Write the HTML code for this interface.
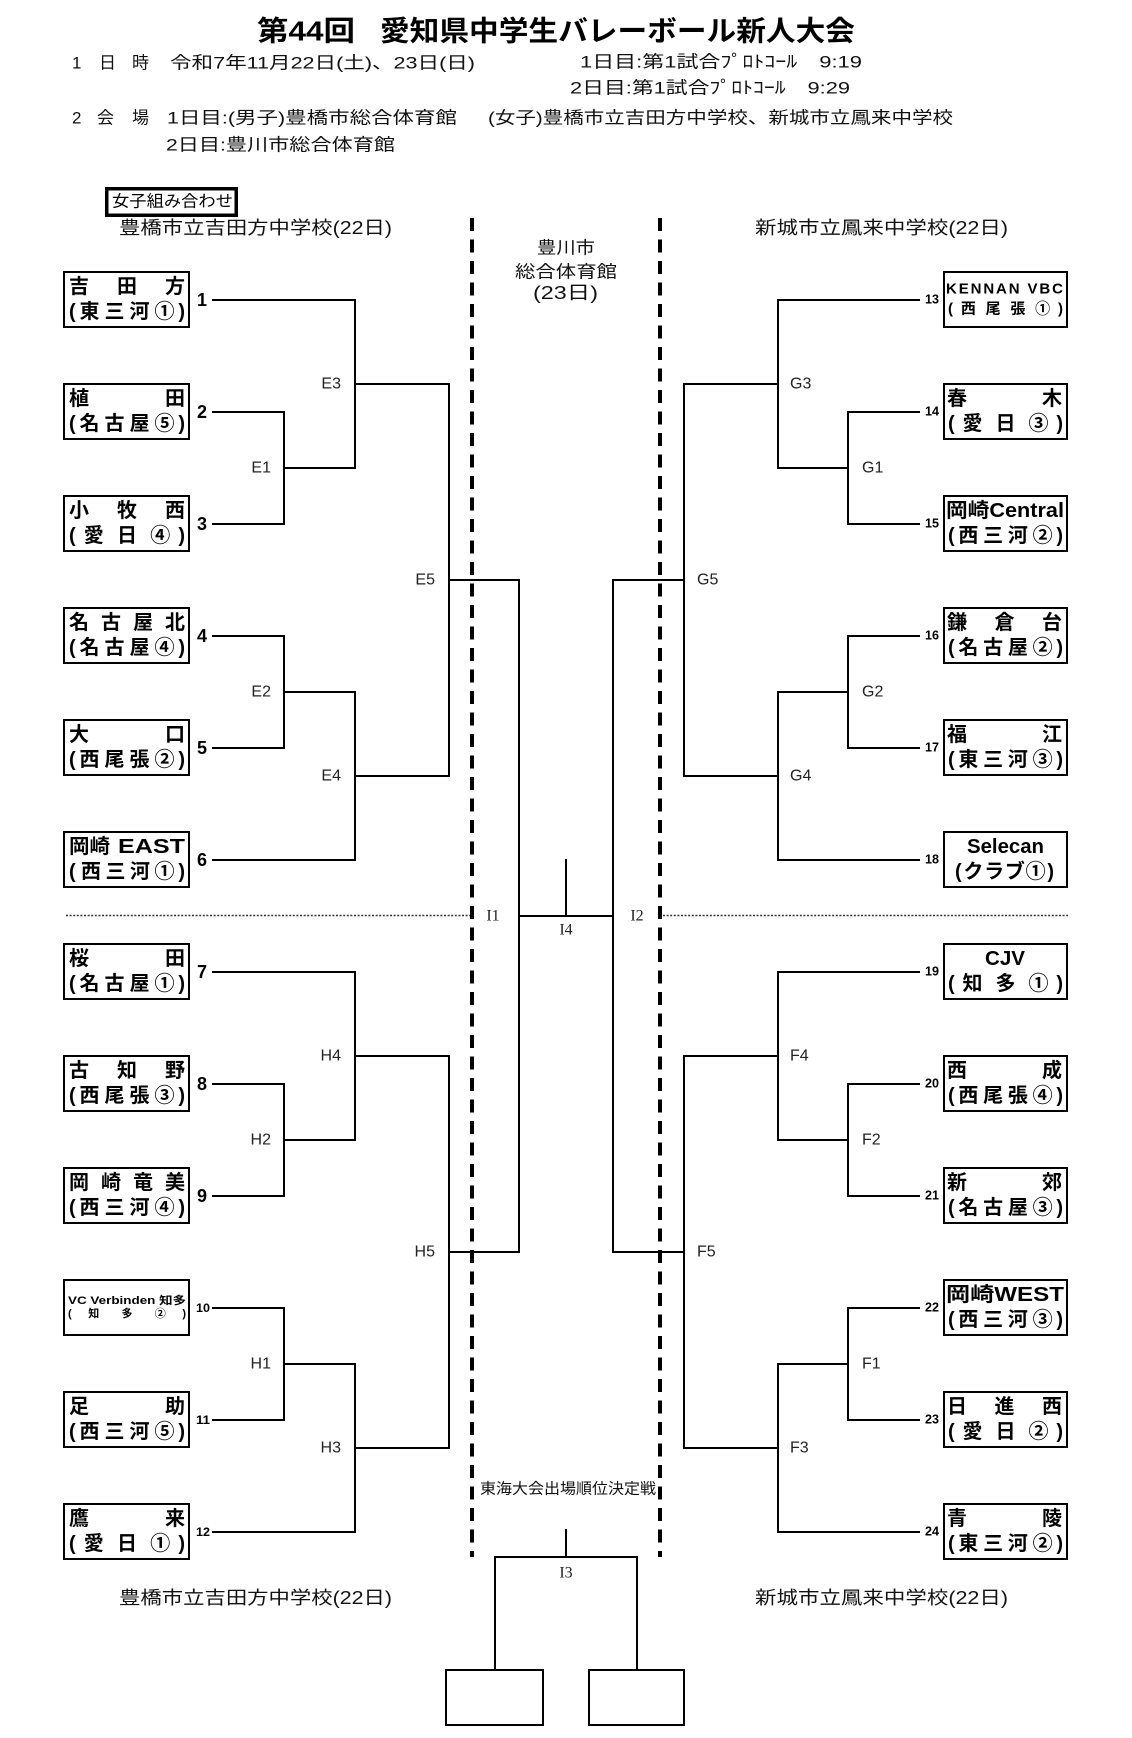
<!DOCTYPE html>
<html><head><meta charset="utf-8"><style>
html,body{margin:0;padding:0;background:#fff;}
svg{display:block;}
text{font-family:"Liberation Sans","Noto Sans CJK JP",sans-serif;dominant-baseline:central;fill:#000;}
.b{font-weight:bold;font-size:20px;text-anchor:middle;}
.bs{font-weight:bold;font-size:20px;text-anchor:start;}
.be{font-weight:bold;font-size:20px;text-anchor:end;}
.h{font-size:17px;fill:#111;}
.lab{font-size:16px;fill:#222;}
.lr{font-size:16px;fill:#222;text-anchor:end;}
.ll{font-size:16px;fill:#222;text-anchor:start;}
.ser{font-family:"Liberation Serif","Noto Serif CJK SC",serif;font-size:16px;text-anchor:middle;fill:#222;}
.num{font-weight:bold;font-size:18px;text-anchor:middle;}
.nums{font-weight:bold;font-size:12px;}
.numr{font-weight:bold;font-size:13px;}
</style></head><body>
<svg width="1132" height="1738" viewBox="0 0 1132 1738" xmlns="http://www.w3.org/2000/svg">
<rect width="1132" height="1738" fill="#fff"/>

<!-- Title -->
<text x="257" y="31" style="font-weight:bold;font-size:28px" textLength="98" lengthAdjust="spacingAndGlyphs">第44回</text>
<text x="380" y="31" style="font-weight:bold;font-size:28px" textLength="475" lengthAdjust="spacingAndGlyphs">愛知県中学生バレーボール新人大会</text>

<!-- Header lines -->
<text class="h" x="72" y="63">1</text>
<text class="h" x="99" y="63">日</text>
<text class="h" x="132" y="63">時</text>
<text class="h" x="170" y="63" textLength="305" lengthAdjust="spacingAndGlyphs">令和7年11月22日(土)、23日(日)</text>
<text class="h" x="580" y="62" textLength="282" lengthAdjust="spacingAndGlyphs">1日目:第1試合ﾌﾟﾛﾄｺｰﾙ　9:19</text>
<text class="h" x="570" y="88" textLength="280" lengthAdjust="spacingAndGlyphs">2日目:第1試合ﾌﾟﾛﾄｺｰﾙ　9:29</text>
<text class="h" x="72" y="118">2</text>
<text class="h" x="97" y="118">会</text>
<text class="h" x="132" y="118">場</text>
<text class="h" x="167" y="118" textLength="290" lengthAdjust="spacingAndGlyphs">1日目:(男子)豊橋市総合体育館</text>
<text class="h" x="488" y="118" textLength="465" lengthAdjust="spacingAndGlyphs">(女子)豊橋市立吉田方中学校、新城市立鳳来中学校</text>
<text class="h" x="166" y="145" textLength="229" lengthAdjust="spacingAndGlyphs">2日目:豊川市総合体育館</text>

<!-- 女子組み合わせ -->
<rect x="106.75" y="188.75" width="129.5" height="26.5" fill="none" stroke="#000" stroke-width="3.5"/>
<text x="112" y="202" style="font-size:16px" textLength="121" lengthAdjust="spacingAndGlyphs">女子組み合わせ</text>

<!-- Column headers -->
<text class="h" x="119" y="228" style="font-size:18px" textLength="273" lengthAdjust="spacingAndGlyphs">豊橋市立吉田方中学校(22日)</text>
<text class="h" x="755" y="228" style="font-size:18px" textLength="253" lengthAdjust="spacingAndGlyphs">新城市立鳳来中学校(22日)</text>
<text class="h" x="119" y="1598" style="font-size:18px" textLength="273" lengthAdjust="spacingAndGlyphs">豊橋市立吉田方中学校(22日)</text>
<text class="h" x="755" y="1598" style="font-size:18px" textLength="253" lengthAdjust="spacingAndGlyphs">新城市立鳳来中学校(22日)</text>

<!-- Center venue -->
<text class="h" x="537" y="248" textLength="58" lengthAdjust="spacingAndGlyphs">豊川市</text>
<text class="h" x="515" y="272" textLength="102" lengthAdjust="spacingAndGlyphs">総合体育館</text>
<text class="h" x="533" y="293" style="font-size:18px" textLength="65" lengthAdjust="spacingAndGlyphs">(23日)</text>
<text class="h" x="480" y="1489" style="font-size:15px" textLength="176" lengthAdjust="spacingAndGlyphs">東海大会出場順位決定戦</text>

<!-- Dashed venue separators -->
<line x1="472" y1="218" x2="472" y2="1557" stroke="#000" stroke-width="4" stroke-dasharray="13 8.5"/>
<line x1="660" y1="218" x2="660" y2="1557" stroke="#000" stroke-width="4" stroke-dasharray="13 8.5"/>

<!-- Dotted separators -->
<line x1="66" y1="915.5" x2="470" y2="915.5" stroke="#333" stroke-width="1.6" stroke-dasharray="2 1.6"/>
<line x1="663" y1="915.5" x2="1068" y2="915.5" stroke="#333" stroke-width="1.6" stroke-dasharray="2 1.6"/>

<!-- Bracket lines -->
<g stroke="#000" stroke-width="2" fill="none" stroke-linecap="square">
<path d="M213 300H355 M213 412H284 M213 524H284 M213 636H284 M213 748H284 M213 860H355 M213 972H355 M213 1084H284 M213 1196H284 M213 1308H284 M213 1420H284 M213 1532H355"/>
<path d="M284 412V524 M284 636V748 M284 1084V1196 M284 1308V1420"/>
<path d="M284 468H355 M284 692H355 M284 1140H355 M284 1364H355"/>
<path d="M355 300V468 M355 692V860 M355 972V1140 M355 1364V1532"/>
<path d="M355 384H449 M355 776H449 M355 1056H449 M355 1448H449"/>
<path d="M449 384V776 M449 1056V1448"/>
<path d="M449 580H519 M449 1252H519"/>
<path d="M519 580V1252 M613 580V1252 M519 916H613 M566 860V916"/>
<path d="M613 580H684 M613 1252H684"/>
<path d="M684 384V776 M684 1056V1448"/>
<path d="M684 384H778 M684 776H778 M684 1056H778 M684 1448H778"/>
<path d="M778 300V468 M778 692V860 M778 972V1140 M778 1364V1532"/>
<path d="M778 468H848 M778 692H848 M778 1140H848 M778 1364H848"/>
<path d="M848 412V524 M848 636V748 M848 1084V1196 M848 1308V1420"/>
<path d="M778 300H919 M848 412H919 M848 524H919 M848 636H919 M848 748H919 M778 860H919 M778 972H919 M848 1084H919 M848 1196H919 M848 1308H919 M848 1420H919 M778 1532H919"/>
<path d="M566 1530V1557 M495 1557H637 M495 1557V1670 M637 1557V1670"/>
</g>
<rect x="446" y="1670" width="97" height="55" fill="none" stroke="#000" stroke-width="2"/>
<rect x="589" y="1670" width="95" height="55" fill="none" stroke="#000" stroke-width="2"/>

<!-- Match labels -->
<text class="lr" x="271" y="468">E1</text>
<text class="lr" x="271" y="692">E2</text>
<text class="lr" x="341" y="384">E3</text>
<text class="lr" x="341" y="776">E4</text>
<text class="lr" x="435" y="580">E5</text>
<text class="lr" x="341" y="1056">H4</text>
<text class="lr" x="271" y="1140">H2</text>
<text class="lr" x="435" y="1252">H5</text>
<text class="lr" x="271" y="1364">H1</text>
<text class="lr" x="341" y="1448">H3</text>
<text class="ll" x="790" y="384">G3</text>
<text class="ll" x="862" y="468">G1</text>
<text class="ll" x="697" y="580">G5</text>
<text class="ll" x="862" y="692">G2</text>
<text class="ll" x="790" y="776">G4</text>
<text class="ll" x="790" y="1056">F4</text>
<text class="ll" x="862" y="1140">F2</text>
<text class="ll" x="697" y="1252">F5</text>
<text class="ll" x="862" y="1364">F1</text>
<text class="ll" x="790" y="1448">F3</text>
<text class="ser" x="493" y="916">I1</text>
<text class="ser" x="637" y="916">I2</text>
<text class="ser" x="566" y="930">I4</text>
<text class="ser" x="566" y="1573">I3</text>

<!-- Seed numbers -->
<text class="num" x="202" y="300">1</text>
<text class="num" x="202" y="412">2</text>
<text class="num" x="202" y="524">3</text>
<text class="num" x="202" y="636">4</text>
<text class="num" x="202" y="748">5</text>
<text class="num" x="202" y="860">6</text>
<text class="num" x="202" y="972">7</text>
<text class="num" x="202" y="1084">8</text>
<text class="num" x="202" y="1196">9</text>
<text class="nums" x="196" y="1308" textLength="14" lengthAdjust="spacingAndGlyphs">10</text>
<text class="nums" x="196" y="1420" textLength="14" lengthAdjust="spacingAndGlyphs">11</text>
<text class="nums" x="196" y="1532" textLength="14" lengthAdjust="spacingAndGlyphs">12</text>
<text class="numr" x="925" y="299" textLength="14" lengthAdjust="spacingAndGlyphs">13</text>
<text class="numr" x="925" y="411" textLength="14" lengthAdjust="spacingAndGlyphs">14</text>
<text class="numr" x="925" y="523" textLength="14" lengthAdjust="spacingAndGlyphs">15</text>
<text class="numr" x="925" y="635" textLength="14" lengthAdjust="spacingAndGlyphs">16</text>
<text class="numr" x="925" y="747" textLength="14" lengthAdjust="spacingAndGlyphs">17</text>
<text class="numr" x="925" y="859" textLength="14" lengthAdjust="spacingAndGlyphs">18</text>
<text class="numr" x="925" y="971" textLength="14" lengthAdjust="spacingAndGlyphs">19</text>
<text class="numr" x="925" y="1083" textLength="14" lengthAdjust="spacingAndGlyphs">20</text>
<text class="numr" x="925" y="1195" textLength="14" lengthAdjust="spacingAndGlyphs">21</text>
<text class="numr" x="925" y="1307" textLength="14" lengthAdjust="spacingAndGlyphs">22</text>
<text class="numr" x="925" y="1419" textLength="14" lengthAdjust="spacingAndGlyphs">23</text>
<text class="numr" x="925" y="1531" textLength="14" lengthAdjust="spacingAndGlyphs">24</text>

<!-- Team boxes -->
<g fill="none" stroke="#000" stroke-width="2">
<rect x="64" y="272" width="125" height="55"/>
<rect x="64" y="384" width="125" height="55"/>
<rect x="64" y="496" width="125" height="55"/>
<rect x="64" y="608" width="125" height="55"/>
<rect x="64" y="720" width="125" height="55"/>
<rect x="64" y="832" width="125" height="55"/>
<rect x="64" y="944" width="125" height="55"/>
<rect x="64" y="1056" width="125" height="55"/>
<rect x="64" y="1168" width="125" height="55"/>
<rect x="64" y="1280" width="125" height="55"/>
<rect x="64" y="1392" width="125" height="55"/>
<rect x="64" y="1504" width="125" height="55"/>
<rect x="944" y="272" width="123" height="55"/>
<rect x="944" y="384" width="123" height="55"/>
<rect x="944" y="496" width="123" height="55"/>
<rect x="944" y="608" width="123" height="55"/>
<rect x="944" y="720" width="123" height="55"/>
<rect x="944" y="832" width="123" height="55"/>
<rect x="944" y="944" width="123" height="55"/>
<rect x="944" y="1056" width="123" height="55"/>
<rect x="944" y="1168" width="123" height="55"/>
<rect x="944" y="1280" width="123" height="55"/>
<rect x="944" y="1392" width="123" height="55"/>
<rect x="944" y="1504" width="123" height="55"/>
</g>

<!-- 1 -->
<text class="b" x="79" y="287">吉</text><text class="b" x="127" y="287">田</text><text class="b" x="175" y="287">方</text>
<text class="bs" x="69" y="312">(</text><text class="b" x="89.5" y="312">東</text><text class="b" x="114.5" y="312">三</text><text class="b" x="139.5" y="312">河</text><text class="b" x="164.5" y="312">①</text><text class="be" x="185" y="312">)</text>
<!-- 2 -->
<text class="b" x="79" y="399">植</text><text class="b" x="175" y="399">田</text>
<text class="bs" x="69" y="424">(</text><text class="b" x="89.5" y="424">名</text><text class="b" x="114.5" y="424">古</text><text class="b" x="139.5" y="424">屋</text><text class="b" x="164.5" y="424">⑤</text><text class="be" x="185" y="424">)</text>
<!-- 3 -->
<text class="b" x="79" y="511">小</text><text class="b" x="127" y="511">牧</text><text class="b" x="175" y="511">西</text>
<text class="bs" x="69" y="536">(</text><text class="b" x="93.7" y="536">愛</text><text class="b" x="127" y="536">日</text><text class="b" x="160.3" y="536">④</text><text class="be" x="185" y="536">)</text>
<!-- 4 -->
<text class="b" x="79" y="623">名</text><text class="b" x="111" y="623">古</text><text class="b" x="143" y="623">屋</text><text class="b" x="175" y="623">北</text>
<text class="bs" x="69" y="648">(</text><text class="b" x="89.5" y="648">名</text><text class="b" x="114.5" y="648">古</text><text class="b" x="139.5" y="648">屋</text><text class="b" x="164.5" y="648">④</text><text class="be" x="185" y="648">)</text>
<!-- 5 -->
<text class="b" x="79" y="735">大</text><text class="b" x="175" y="735">口</text>
<text class="bs" x="69" y="760">(</text><text class="b" x="89.5" y="760">西</text><text class="b" x="114.5" y="760">尾</text><text class="b" x="139.5" y="760">張</text><text class="b" x="164.5" y="760">②</text><text class="be" x="185" y="760">)</text>
<!-- 6 -->
<text class="bs" x="69" y="847" textLength="41" lengthAdjust="spacingAndGlyphs">岡崎</text><text class="bs" x="118" y="847" textLength="67" lengthAdjust="spacingAndGlyphs">EAST</text>
<text class="bs" x="69" y="872">(</text><text class="b" x="91" y="872">西</text><text class="b" x="115.5" y="872">三</text><text class="b" x="140" y="872">河</text><text class="b" x="164.5" y="872">①</text><text class="be" x="185" y="872">)</text>
<!-- 7 -->
<text class="b" x="79" y="959">桜</text><text class="b" x="175" y="959">田</text>
<text class="bs" x="69" y="984">(</text><text class="b" x="89.5" y="984">名</text><text class="b" x="114.5" y="984">古</text><text class="b" x="139.5" y="984">屋</text><text class="b" x="164.5" y="984">①</text><text class="be" x="185" y="984">)</text>
<!-- 8 -->
<text class="b" x="79" y="1071">古</text><text class="b" x="127" y="1071">知</text><text class="b" x="175" y="1071">野</text>
<text class="bs" x="69" y="1096">(</text><text class="b" x="89.5" y="1096">西</text><text class="b" x="114.5" y="1096">尾</text><text class="b" x="139.5" y="1096">張</text><text class="b" x="164.5" y="1096">③</text><text class="be" x="185" y="1096">)</text>
<!-- 9 -->
<text class="b" x="79" y="1183">岡</text><text class="b" x="111" y="1183">崎</text><text class="b" x="143" y="1183">竜</text><text class="b" x="175" y="1183">美</text>
<text class="bs" x="69" y="1208">(</text><text class="b" x="89.5" y="1208">西</text><text class="b" x="114.5" y="1208">三</text><text class="b" x="139.5" y="1208">河</text><text class="b" x="164.5" y="1208">④</text><text class="be" x="185" y="1208">)</text>
<!-- 10 -->
<text x="68" y="1301" style="font-weight:bold;font-size:11px" textLength="118" lengthAdjust="spacingAndGlyphs">VC Verbinden 知多</text>
<text x="68" y="1314" style="font-weight:bold;font-size:11px">(</text><text x="93.7" y="1314" style="font-weight:bold;font-size:11px;text-anchor:middle">知</text><text x="127" y="1314" style="font-weight:bold;font-size:11px;text-anchor:middle">多</text><text x="160.3" y="1314" style="font-weight:bold;font-size:11px;text-anchor:middle">②</text><text x="186" y="1314" style="font-weight:bold;font-size:11px;text-anchor:end">)</text>
<!-- 11 -->
<text class="b" x="79" y="1407">足</text><text class="b" x="175" y="1407">助</text>
<text class="bs" x="69" y="1432">(</text><text class="b" x="89.5" y="1432">西</text><text class="b" x="114.5" y="1432">三</text><text class="b" x="139.5" y="1432">河</text><text class="b" x="164.5" y="1432">⑤</text><text class="be" x="185" y="1432">)</text>
<!-- 12 -->
<text class="b" x="79" y="1519">鷹</text><text class="b" x="175" y="1519">来</text>
<text class="bs" x="69" y="1544">(</text><text class="b" x="93.7" y="1544">愛</text><text class="b" x="127" y="1544">日</text><text class="b" x="160.3" y="1544">①</text><text class="be" x="185" y="1544">)</text>

<!-- 13 -->
<text x="946" y="289" style="font-weight:bold;font-size:15px" textLength="117" lengthAdjust="spacing">KENNAN VBC</text>
<text x="948" y="309" style="font-weight:bold;font-size:15px">(</text><text x="968.4" y="309" style="font-weight:bold;font-size:15px;text-anchor:middle">西</text><text x="993.1" y="309" style="font-weight:bold;font-size:15px;text-anchor:middle">尾</text><text x="1017.9" y="309" style="font-weight:bold;font-size:15px;text-anchor:middle">張</text><text x="1042.6" y="309" style="font-weight:bold;font-size:15px;text-anchor:middle">①</text><text x="1063" y="309" style="font-weight:bold;font-size:15px;text-anchor:end">)</text>
<!-- 14 -->
<text class="b" x="957" y="399">春</text><text class="b" x="1052" y="399">木</text>
<text class="bs" x="948" y="424">(</text><text class="b" x="972.5" y="424">愛</text><text class="b" x="1005.5" y="424">日</text><text class="b" x="1038.5" y="424">③</text><text class="be" x="1063" y="424">)</text>
<!-- 15 -->
<text class="bs" x="946" y="511" textLength="118" lengthAdjust="spacingAndGlyphs">岡崎Central</text>
<text class="bs" x="948" y="536">(</text><text class="b" x="968.4" y="536">西</text><text class="b" x="993.1" y="536">三</text><text class="b" x="1017.9" y="536">河</text><text class="b" x="1042.6" y="536">②</text><text class="be" x="1063" y="536">)</text>
<!-- 16 -->
<text class="b" x="957" y="623">鎌</text><text class="b" x="1004.5" y="623">倉</text><text class="b" x="1052" y="623">台</text>
<text class="bs" x="948" y="648">(</text><text class="b" x="968.4" y="648">名</text><text class="b" x="993.1" y="648">古</text><text class="b" x="1017.9" y="648">屋</text><text class="b" x="1042.6" y="648">②</text><text class="be" x="1063" y="648">)</text>
<!-- 17 -->
<text class="b" x="957" y="735">福</text><text class="b" x="1052" y="735">江</text>
<text class="bs" x="948" y="760">(</text><text class="b" x="968.4" y="760">東</text><text class="b" x="993.1" y="760">三</text><text class="b" x="1017.9" y="760">河</text><text class="b" x="1042.6" y="760">③</text><text class="be" x="1063" y="760">)</text>
<!-- 18 -->
<text class="bs" x="967" y="847" textLength="77" lengthAdjust="spacingAndGlyphs">Selecan</text>
<text class="bs" x="955" y="872">(</text><text class="b" x="973.4" y="872">ク</text><text class="b" x="994.1" y="872">ラ</text><text class="b" x="1014.9" y="872">ブ</text><text class="b" x="1035.6" y="872">①</text><text class="be" x="1054" y="872">)</text>
<!-- 19 -->
<text class="bs" x="985" y="959" textLength="40" lengthAdjust="spacingAndGlyphs">CJV</text>
<text class="bs" x="948" y="984">(</text><text class="b" x="972.5" y="984">知</text><text class="b" x="1005.5" y="984">多</text><text class="b" x="1038.5" y="984">①</text><text class="be" x="1063" y="984">)</text>
<!-- 20 -->
<text class="b" x="957" y="1071">西</text><text class="b" x="1052" y="1071">成</text>
<text class="bs" x="948" y="1096">(</text><text class="b" x="968.4" y="1096">西</text><text class="b" x="993.1" y="1096">尾</text><text class="b" x="1017.9" y="1096">張</text><text class="b" x="1042.6" y="1096">④</text><text class="be" x="1063" y="1096">)</text>
<!-- 21 -->
<text class="b" x="957" y="1183">新</text><text class="b" x="1052" y="1183">郊</text>
<text class="bs" x="948" y="1208">(</text><text class="b" x="968.4" y="1208">名</text><text class="b" x="993.1" y="1208">古</text><text class="b" x="1017.9" y="1208">屋</text><text class="b" x="1042.6" y="1208">③</text><text class="be" x="1063" y="1208">)</text>
<!-- 22 -->
<text class="bs" x="946" y="1295" textLength="118" lengthAdjust="spacingAndGlyphs">岡崎WEST</text>
<text class="bs" x="948" y="1320">(</text><text class="b" x="968.4" y="1320">西</text><text class="b" x="993.1" y="1320">三</text><text class="b" x="1017.9" y="1320">河</text><text class="b" x="1042.6" y="1320">③</text><text class="be" x="1063" y="1320">)</text>
<!-- 23 -->
<text class="b" x="957" y="1407">日</text><text class="b" x="1004.5" y="1407">進</text><text class="b" x="1052" y="1407">西</text>
<text class="bs" x="948" y="1432">(</text><text class="b" x="972.5" y="1432">愛</text><text class="b" x="1005.5" y="1432">日</text><text class="b" x="1038.5" y="1432">②</text><text class="be" x="1063" y="1432">)</text>
<!-- 24 -->
<text class="b" x="957" y="1519">青</text><text class="b" x="1052" y="1519">陵</text>
<text class="bs" x="948" y="1544">(</text><text class="b" x="968.4" y="1544">東</text><text class="b" x="993.1" y="1544">三</text><text class="b" x="1017.9" y="1544">河</text><text class="b" x="1042.6" y="1544">②</text><text class="be" x="1063" y="1544">)</text>

</svg>
</body></html>
